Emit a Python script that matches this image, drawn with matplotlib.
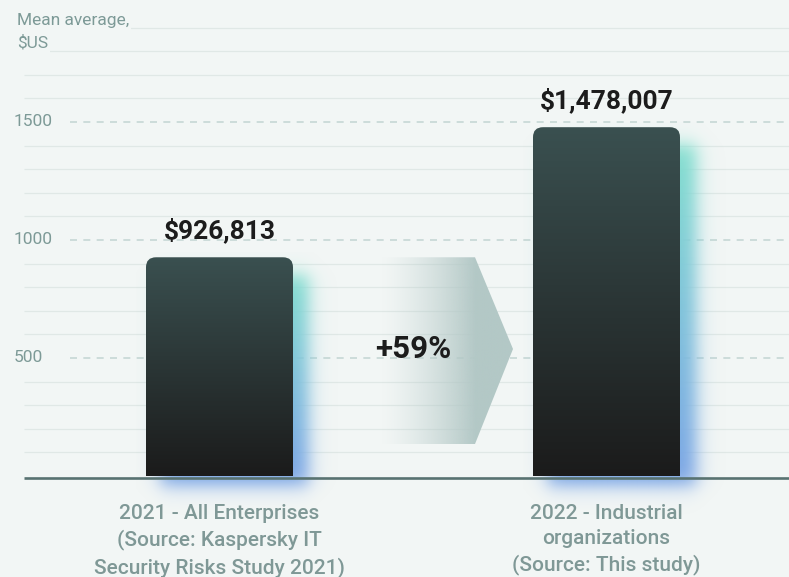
import numpy as np
import matplotlib.pyplot as plt
from matplotlib.patches import FancyBboxPatch, Polygon
from matplotlib.colors import to_rgb

plt.rcParams['font.family'] = ['Roboto', 'DejaVu Sans']

# data
categories = ['2021 - All Enterprises\n(Source: Kaspersky IT\nSecurity Risks Study 2021)',
              '2022 - Industrial\norganizations\n(Source: This study)']
values = [926813, 1478007]          # mean average, $US
change_label = '+59%'
y_title = ['Mean average,', '$US']
major_ticks = [500, 1000, 1500]
minor_lines = [100, 200, 300, 400, 600, 700, 800, 900, 1100, 1200, 1300, 1400,
               1600, 1700, 1800, 1900]

BG = '#f2f6f5'
TXT = '#7d9a97'

# pixel -> data helpers (figure is 789x577 px, axes fill the whole figure)
PX_X = 1 / 387.0
PX_Y = 500 / 118.0


def px2x(px):
    return (px - 219.5) * PX_X


def py2y(py):
    return (476 - py) * PX_Y


def phi(z):
    # smooth step, close to a gaussian cdf
    return 1.0 / (1.0 + np.exp(-1.702 * z))


fig = plt.figure(figsize=(7.89, 5.77), dpi=100, facecolor=BG)
ax = fig.add_axes([0, 0, 1, 1])
ax.set_facecolor(BG)
ax.set_xlim(px2x(0), px2x(789))
ax.set_ylim(py2y(577), py2y(0))
ax.axis('off')

# grid
ax.hlines(minor_lines, px2x(24), px2x(789), color='#e0e8e6', lw=0.9, zorder=1)
ax.hlines(major_ticks, px2x(70), px2x(789), color='#c6d7d5', lw=1.2,
          linestyles=(0, (4.2, 3.8)), zorder=1)
for t in major_ticks:
    ax.text(px2x(14), t, str(t), ha='left', va='center', fontsize=12.5, color=TXT, zorder=6)

ax.text(px2x(17), py2y(21), y_title[0], ha='left', va='center', fontsize=12.5, color=TXT,
        bbox=dict(facecolor=BG, edgecolor='none', pad=1.5), zorder=6)
ax.text(px2x(17), py2y(43), y_title[1], ha='left', va='center', fontsize=12.5, color=TXT,
        bbox=dict(facecolor=BG, edgecolor='none', pad=1.5), zorder=6)

bar_w = 147 * PX_X
rad = 10
top_col = np.array(to_rgb('#3a5050'))
bot_col = np.array(to_rgb('#1b1b1b'))
teal = np.array(to_rgb('#86e3cf'))
blue = np.array(to_rgb('#7ea8e6'))

for i, v in enumerate(values):
    h = v / 1000
    x0 = i - bar_w / 2
    h_px = h / PX_Y

    # glow behind the bar
    gx = np.arange(-10, 147 + 60)
    gy = np.arange(-50, h_px + 5)
    GX, GY = np.meshgrid(gx, gy)
    s = 9.0
    a = phi((GX - 14) / s) * phi((147 + 15 - GX) / s) * phi((GY + 10) / s) * phi((h_px - 18 - GY) / s)
    t = np.clip(GY / max(h_px, 1), 0, 1)[..., None]
    col = blue * (1 - t) + teal * t
    img = np.dstack([col, np.clip(a * 1.05, 0, 1)])
    ax.imshow(img[::-1], extent=[x0 - 10 * PX_X, x0 + (147 + 60) * PX_X, -50 * PX_Y, gy[-1] * PX_Y],
              aspect='auto', interpolation='bilinear', zorder=2)

    # bar with vertical gradient and rounded top
    n = 200
    tt = np.linspace(0, 1, n)[:, None]
    grad = top_col * (1 - tt) + bot_col * tt
    im = ax.imshow(grad[:, None, :], extent=[x0, x0 + bar_w, 0, h], aspect='auto',
                   interpolation='bilinear', zorder=3)
    clip = FancyBboxPatch((x0, -200), bar_w, h + 200,
                          boxstyle=f'round,pad=0,rounding_size={rad * PX_X}',
                          mutation_aspect=PX_Y / PX_X, transform=ax.transData)
    im.set_clip_path(clip)

    ax.annotate(f'${v:,}', xy=(i, h), xytext=(0, 13.5), textcoords='offset points',
                ha='center', va='baseline', fontsize=19, fontweight='bold', color='#1c1c1c', zorder=6)

    ax.text(i, py2y(504), categories[i], ha='center', va='top', fontsize=15, fontweight='medium',
            color='#7f9896', linespacing=1.4, zorder=6)

# growth arrow
ar_left, ar_sh, ar_tip = px2x(380), px2x(475), px2x(513)
ar_top, ar_bot = values[0] / 1000, py2y(444)
ar_mid = py2y(349)
arrow = Polygon([(ar_left, ar_top), (ar_sh, ar_top), (ar_tip, ar_mid), (ar_sh, ar_bot), (ar_left, ar_bot)],
                closed=True, transform=ax.transData)
xs = np.linspace(0, 1, 200)
alpha = np.clip(xs / 0.72, 0, 1) ** 1.4
acol = np.array(to_rgb('#b3c8c6'))
aimg = np.zeros((1, 200, 4))
aimg[0, :, :3] = acol
aimg[0, :, 3] = alpha
aim = ax.imshow(aimg, extent=[ar_left, ar_tip, ar_bot, ar_top], aspect='auto',
                interpolation='bilinear', zorder=2.5)
aim.set_clip_path(arrow)
ax.text(px2x(413.5), 500, change_label, ha='center', va='baseline', fontsize=22.5,
        fontweight='bold', color='#1c1c1c', zorder=6)

# baseline
ax.hlines(py2y(477.5), px2x(24), px2x(789), color='#587271', lw=1.9, zorder=4)

fig.savefig('out.png', dpi=100, facecolor=BG)
